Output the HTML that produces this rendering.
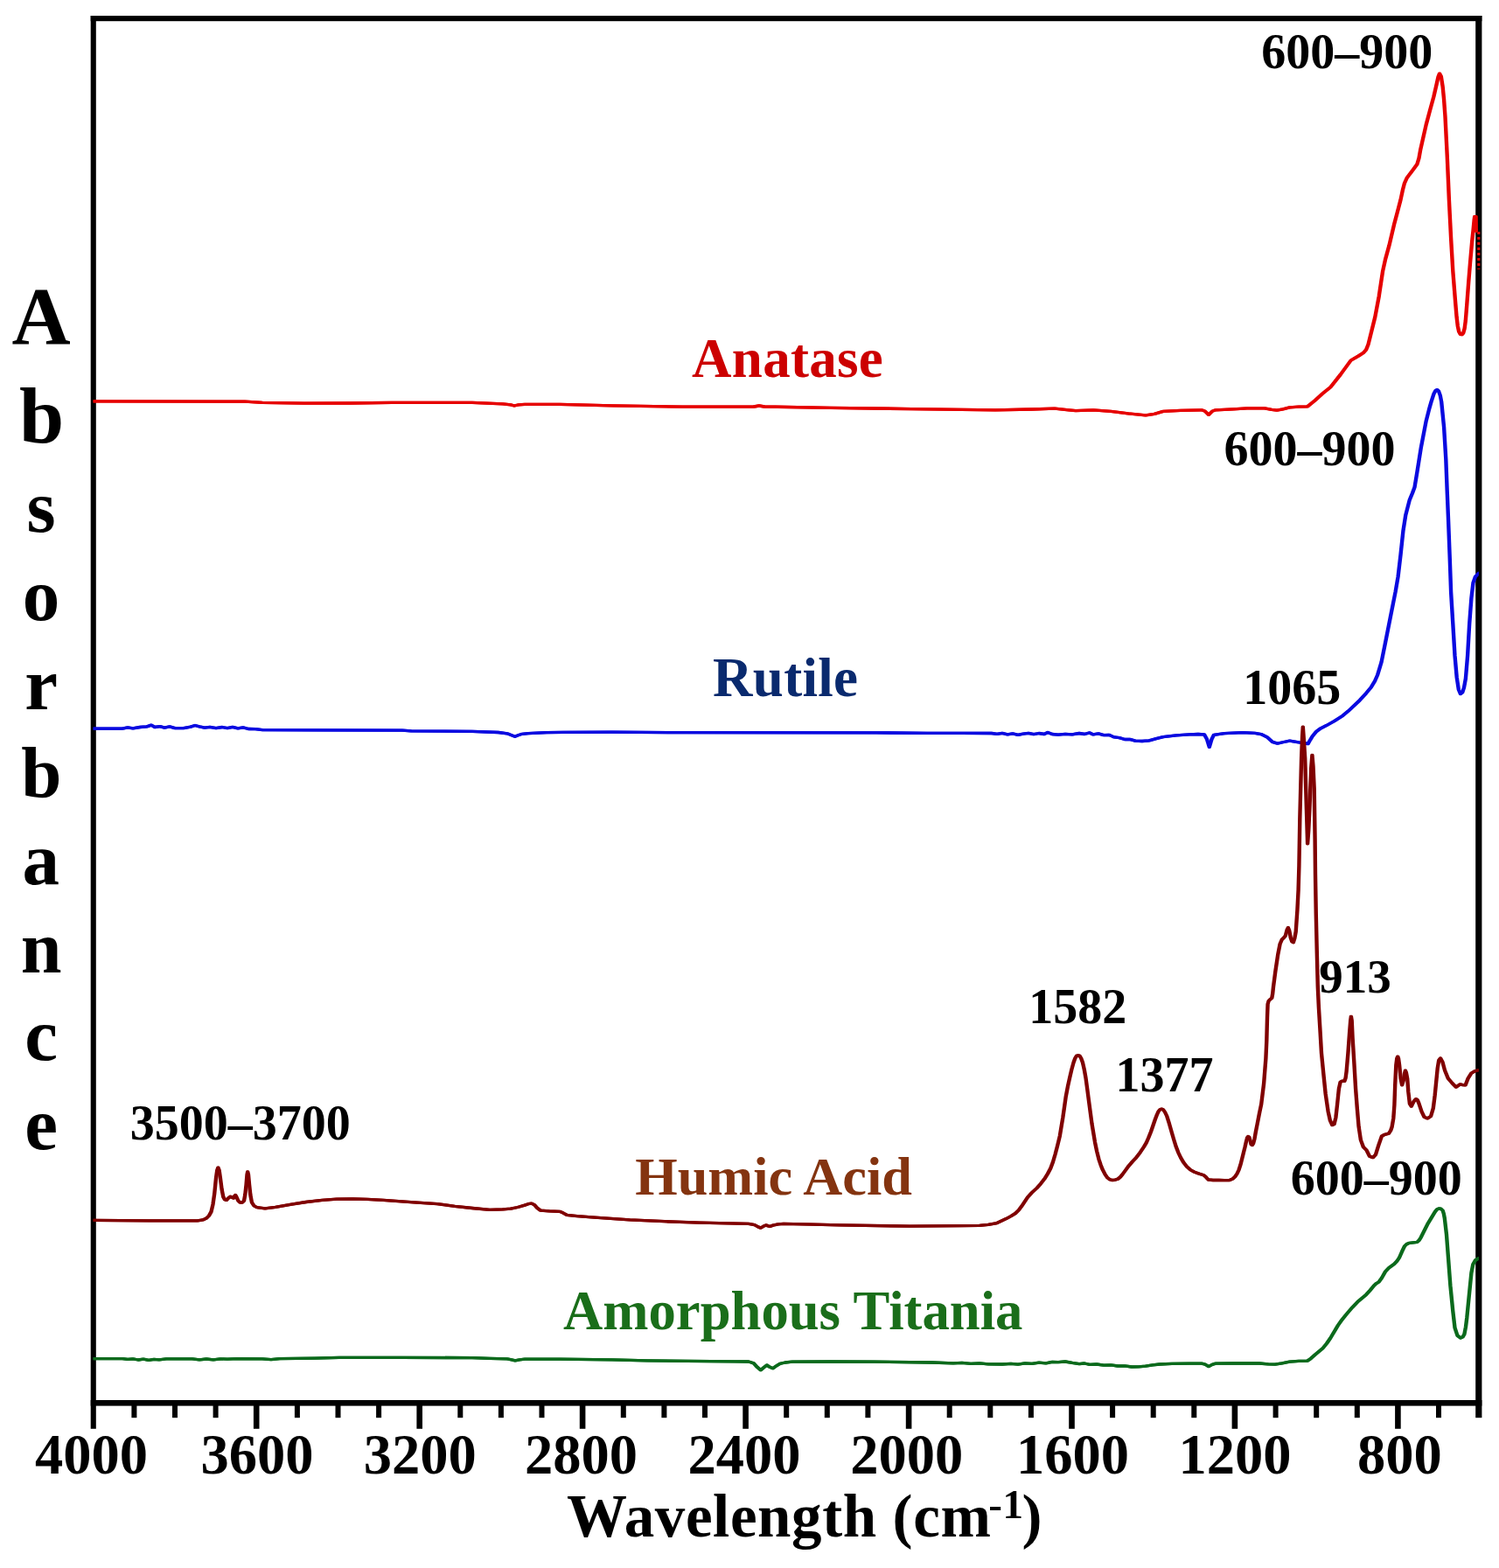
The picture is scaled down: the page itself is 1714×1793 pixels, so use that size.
<!DOCTYPE html>
<html lang="en">
<head>
<meta charset="utf-8">
<title>FTIR spectra</title>
<style>
html,body{margin:0;padding:0;background:#fff;}
body{width:1714px;height:1793px;overflow:hidden;}
svg{display:block;}
text{font-family:"Liberation Serif",serif;font-weight:bold;}
.c{fill:none;stroke-linejoin:round;stroke-linecap:round;}
</style>
</head>
<body>
<svg width="1714" height="1793" viewBox="0 0 1714 1793">
<rect x="0" y="0" width="1714" height="1793" fill="#ffffff"/>
<g fill="#000000">
<rect x="103.7" y="18.0" width="6.1" height="1615.8"/>
<rect x="103.7" y="18.0" width="1590.7" height="6.2"/>
<rect x="1687.2" y="18.0" width="7.2" height="1603.2"/>
<rect x="103.7" y="1601.0" width="1590.7" height="6.6"/>
<rect x="150.4" y="1601.0" width="6.0" height="20.2"/>
<rect x="197.0" y="1601.0" width="6.0" height="20.2"/>
<rect x="243.6" y="1601.0" width="6.0" height="20.2"/>
<rect x="289.9" y="1601.0" width="6.6" height="32.8"/>
<rect x="336.9" y="1601.0" width="6.0" height="20.2"/>
<rect x="383.5" y="1601.0" width="6.0" height="20.2"/>
<rect x="430.1" y="1601.0" width="6.0" height="20.2"/>
<rect x="476.4" y="1601.0" width="6.6" height="32.8"/>
<rect x="523.3" y="1601.0" width="6.0" height="20.2"/>
<rect x="569.9" y="1601.0" width="6.0" height="20.2"/>
<rect x="616.5" y="1601.0" width="6.0" height="20.2"/>
<rect x="662.8" y="1601.0" width="6.6" height="32.8"/>
<rect x="709.8" y="1601.0" width="6.0" height="20.2"/>
<rect x="756.4" y="1601.0" width="6.0" height="20.2"/>
<rect x="803.0" y="1601.0" width="6.0" height="20.2"/>
<rect x="849.3" y="1601.0" width="6.6" height="32.8"/>
<rect x="896.2" y="1601.0" width="6.0" height="20.2"/>
<rect x="942.8" y="1601.0" width="6.0" height="20.2"/>
<rect x="989.4" y="1601.0" width="6.0" height="20.2"/>
<rect x="1035.8" y="1601.0" width="6.6" height="32.8"/>
<rect x="1082.7" y="1601.0" width="6.0" height="20.2"/>
<rect x="1129.3" y="1601.0" width="6.0" height="20.2"/>
<rect x="1175.9" y="1601.0" width="6.0" height="20.2"/>
<rect x="1222.2" y="1601.0" width="6.6" height="32.8"/>
<rect x="1269.1" y="1601.0" width="6.0" height="20.2"/>
<rect x="1315.7" y="1601.0" width="6.0" height="20.2"/>
<rect x="1362.3" y="1601.0" width="6.0" height="20.2"/>
<rect x="1408.6" y="1601.0" width="6.6" height="32.8"/>
<rect x="1455.6" y="1601.0" width="6.0" height="20.2"/>
<rect x="1502.2" y="1601.0" width="6.0" height="20.2"/>
<rect x="1548.8" y="1601.0" width="6.0" height="20.2"/>
<rect x="1595.1" y="1601.0" width="6.6" height="32.8"/>
<rect x="1642.0" y="1601.0" width="6.0" height="20.2"/>
</g>
<defs><clipPath id="plotclip"><rect x="106.6" y="24" width="1584.2" height="1578"/></clipPath></defs>
<g clip-path="url(#plotclip)">
<g class="c" stroke="#0b6a1c" stroke-width="3.3"><polyline transform="translate(-0.55,0)" points="105.0,1553.6 140.0,1553.6 146.0,1554.4 152.0,1553.8 158.0,1555.0 164.0,1554.2 170.0,1555.4 176.0,1554.4 182.0,1554.8 190.0,1553.8 200.0,1553.8 220.0,1553.8 228.0,1554.8 236.0,1554.0 244.0,1554.8 252.0,1553.8 260.0,1554.2 272.0,1553.6 300.0,1553.8 310.0,1554.6 320.0,1553.6 360.0,1553.2 388.0,1552.4 460.0,1552.4 540.0,1552.6 560.0,1553.4 580.0,1553.8 585.0,1554.8 589.0,1555.8 594.0,1554.8 600.0,1554.2 640.0,1554.2 700.0,1554.8 740.0,1555.8 786.0,1556.4 840.0,1556.8 856.0,1557.0 861.8,1558.8 865.8,1563.3 869.8,1566.8 873.3,1563.8 876.8,1561.0 880.3,1563.3 883.8,1564.8 887.8,1561.8 891.8,1559.4 897.8,1558.0 906.0,1557.2 950.0,1557.0 1000.0,1557.2 1066.0,1558.0 1090.0,1558.8 1100.0,1558.4 1110.0,1559.4 1120.0,1558.8 1130.0,1559.8 1146.0,1560.0 1156.0,1559.4 1164.0,1560.2 1172.0,1558.8 1180.0,1559.4 1188.0,1558.2 1196.0,1558.8 1203.0,1557.4 1210.0,1557.6 1218.0,1557.0 1226.0,1558.4 1234.0,1559.6 1240.0,1559.0 1246.0,1560.4 1254.0,1560.0 1262.0,1561.2 1270.0,1560.8 1278.0,1562.0 1286.0,1561.8 1294.0,1563.0 1302.0,1562.8 1310.0,1562.2 1318.0,1560.8 1326.0,1560.0 1340.0,1559.4 1360.0,1559.2 1374.0,1559.2 1378.0,1560.2 1382.0,1562.6 1386.0,1560.4 1390.0,1559.2 1410.0,1559.0 1426.0,1558.8 1440.0,1559.0 1450.0,1559.8 1458.0,1560.1 1466.0,1558.8 1474.6,1557.2 1485.0,1556.4 1495.0,1556.2 1499.0,1553.3 1503.8,1549.0 1512.5,1541.7 1517.0,1536.3 1521.3,1530.0 1530.0,1515.4 1534.0,1509.8 1538.8,1503.7 1546.0,1495.3 1553.4,1487.7 1562.1,1480.4 1566.5,1475.6 1570.9,1470.2 1573.8,1467.6 1576.7,1465.8 1580.0,1461.3 1584.0,1454.1 1588.0,1449.8 1594.2,1445.4 1597.5,1441.8 1600.0,1438.1 1603.0,1431.3 1605.9,1425.2 1608.5,1422.6 1611.7,1421.3 1616.0,1420.8 1620.4,1420.4 1622.6,1418.3 1624.8,1414.8 1632.1,1400.2 1636.5,1392.8 1640.9,1385.6 1643.0,1383.0 1645.2,1381.9 1647.5,1382.2 1649.6,1384.1 1650.8,1387.8 1651.8,1392.9 1654.0,1411.8 1656.2,1441.0 1658.4,1470.2 1661.3,1499.4 1663.5,1518.3 1666.4,1527.1 1670.0,1530.0 1672.5,1528.8 1674.4,1525.6 1676.0,1517.3 1677.3,1506.7 1680.2,1477.5 1682.4,1455.6 1684.3,1445.8 1687.0,1441.0 1691.0,1438.8"/><polyline transform="translate(0.55,0)" points="105.0,1553.6 140.0,1553.6 146.0,1554.4 152.0,1553.8 158.0,1555.0 164.0,1554.2 170.0,1555.4 176.0,1554.4 182.0,1554.8 190.0,1553.8 200.0,1553.8 220.0,1553.8 228.0,1554.8 236.0,1554.0 244.0,1554.8 252.0,1553.8 260.0,1554.2 272.0,1553.6 300.0,1553.8 310.0,1554.6 320.0,1553.6 360.0,1553.2 388.0,1552.4 460.0,1552.4 540.0,1552.6 560.0,1553.4 580.0,1553.8 585.0,1554.8 589.0,1555.8 594.0,1554.8 600.0,1554.2 640.0,1554.2 700.0,1554.8 740.0,1555.8 786.0,1556.4 840.0,1556.8 856.0,1557.0 861.8,1558.8 865.8,1563.3 869.8,1566.8 873.3,1563.8 876.8,1561.0 880.3,1563.3 883.8,1564.8 887.8,1561.8 891.8,1559.4 897.8,1558.0 906.0,1557.2 950.0,1557.0 1000.0,1557.2 1066.0,1558.0 1090.0,1558.8 1100.0,1558.4 1110.0,1559.4 1120.0,1558.8 1130.0,1559.8 1146.0,1560.0 1156.0,1559.4 1164.0,1560.2 1172.0,1558.8 1180.0,1559.4 1188.0,1558.2 1196.0,1558.8 1203.0,1557.4 1210.0,1557.6 1218.0,1557.0 1226.0,1558.4 1234.0,1559.6 1240.0,1559.0 1246.0,1560.4 1254.0,1560.0 1262.0,1561.2 1270.0,1560.8 1278.0,1562.0 1286.0,1561.8 1294.0,1563.0 1302.0,1562.8 1310.0,1562.2 1318.0,1560.8 1326.0,1560.0 1340.0,1559.4 1360.0,1559.2 1374.0,1559.2 1378.0,1560.2 1382.0,1562.6 1386.0,1560.4 1390.0,1559.2 1410.0,1559.0 1426.0,1558.8 1440.0,1559.0 1450.0,1559.8 1458.0,1560.1 1466.0,1558.8 1474.6,1557.2 1485.0,1556.4 1495.0,1556.2 1499.0,1553.3 1503.8,1549.0 1512.5,1541.7 1517.0,1536.3 1521.3,1530.0 1530.0,1515.4 1534.0,1509.8 1538.8,1503.7 1546.0,1495.3 1553.4,1487.7 1562.1,1480.4 1566.5,1475.6 1570.9,1470.2 1573.8,1467.6 1576.7,1465.8 1580.0,1461.3 1584.0,1454.1 1588.0,1449.8 1594.2,1445.4 1597.5,1441.8 1600.0,1438.1 1603.0,1431.3 1605.9,1425.2 1608.5,1422.6 1611.7,1421.3 1616.0,1420.8 1620.4,1420.4 1622.6,1418.3 1624.8,1414.8 1632.1,1400.2 1636.5,1392.8 1640.9,1385.6 1643.0,1383.0 1645.2,1381.9 1647.5,1382.2 1649.6,1384.1 1650.8,1387.8 1651.8,1392.9 1654.0,1411.8 1656.2,1441.0 1658.4,1470.2 1661.3,1499.4 1663.5,1518.3 1666.4,1527.1 1670.0,1530.0 1672.5,1528.8 1674.4,1525.6 1676.0,1517.3 1677.3,1506.7 1680.2,1477.5 1682.4,1455.6 1684.3,1445.8 1687.0,1441.0 1691.0,1438.8"/></g>
<g class="c" stroke="#e60000" stroke-width="3.3"><polyline transform="translate(-0.55,0)" points="105.0,458.8 280.0,459.2 300.0,460.3 348.0,461.2 400.0,461.0 448.0,460.4 540.0,460.4 575.0,461.8 584.0,462.8 588.0,464.0 593.0,462.8 600.0,462.3 640.0,462.3 700.0,463.8 780.0,465.2 862.0,465.0 868.0,464.0 874.0,465.0 950.0,466.3 1042.0,467.6 1138.0,468.8 1180.0,468.0 1206.0,467.2 1222.0,468.8 1230.0,469.6 1250.0,468.8 1270.0,470.3 1290.0,472.8 1310.0,474.8 1320.0,473.3 1330.0,470.3 1350.0,469.3 1374.0,468.8 1378.0,470.3 1382.0,474.3 1386.0,470.3 1390.0,468.8 1410.0,467.8 1426.0,466.8 1446.0,466.8 1454.0,468.3 1460.0,469.2 1467.0,467.8 1474.6,465.8 1485.0,465.1 1495.0,464.9 1503.8,457.8 1512.0,450.3 1521.3,442.7 1532.9,428.1 1544.6,412.1 1553.4,407.0 1559.0,403.3 1562.1,399.8 1564.5,393.8 1566.5,385.8 1572.3,362.5 1576.7,339.1 1581.1,310.0 1584.0,296.8 1588.4,280.8 1594.2,256.2 1598.0,241.8 1601.5,228.5 1604.0,216.8 1605.9,209.6 1608.5,203.8 1611.7,199.4 1616.0,193.8 1620.4,187.7 1622.5,180.8 1624.1,171.7 1630.7,142.5 1635.0,126.3 1639.4,110.4 1642.5,96.8 1644.5,87.8 1646.0,84.1 1647.8,87.3 1649.6,98.7 1651.0,112.8 1652.5,133.7 1654.7,177.5 1656.9,228.5 1659.1,272.3 1661.3,310.0 1664.2,346.4 1665.6,362.8 1666.8,372.8 1668.2,379.3 1669.8,382.3 1671.6,382.6 1673.2,380.8 1674.6,375.8 1675.8,366.8 1677.3,347.8 1679.2,322.8 1681.0,300.8 1683.2,275.8 1684.6,262.8 1685.6,251.8 1686.2,247.6 1687.6,247.6 1687.8,264.3"/><polyline transform="translate(0.55,0)" points="105.0,458.8 280.0,459.2 300.0,460.3 348.0,461.2 400.0,461.0 448.0,460.4 540.0,460.4 575.0,461.8 584.0,462.8 588.0,464.0 593.0,462.8 600.0,462.3 640.0,462.3 700.0,463.8 780.0,465.2 862.0,465.0 868.0,464.0 874.0,465.0 950.0,466.3 1042.0,467.6 1138.0,468.8 1180.0,468.0 1206.0,467.2 1222.0,468.8 1230.0,469.6 1250.0,468.8 1270.0,470.3 1290.0,472.8 1310.0,474.8 1320.0,473.3 1330.0,470.3 1350.0,469.3 1374.0,468.8 1378.0,470.3 1382.0,474.3 1386.0,470.3 1390.0,468.8 1410.0,467.8 1426.0,466.8 1446.0,466.8 1454.0,468.3 1460.0,469.2 1467.0,467.8 1474.6,465.8 1485.0,465.1 1495.0,464.9 1503.8,457.8 1512.0,450.3 1521.3,442.7 1532.9,428.1 1544.6,412.1 1553.4,407.0 1559.0,403.3 1562.1,399.8 1564.5,393.8 1566.5,385.8 1572.3,362.5 1576.7,339.1 1581.1,310.0 1584.0,296.8 1588.4,280.8 1594.2,256.2 1598.0,241.8 1601.5,228.5 1604.0,216.8 1605.9,209.6 1608.5,203.8 1611.7,199.4 1616.0,193.8 1620.4,187.7 1622.5,180.8 1624.1,171.7 1630.7,142.5 1635.0,126.3 1639.4,110.4 1642.5,96.8 1644.5,87.8 1646.0,84.1 1647.8,87.3 1649.6,98.7 1651.0,112.8 1652.5,133.7 1654.7,177.5 1656.9,228.5 1659.1,272.3 1661.3,310.0 1664.2,346.4 1665.6,362.8 1666.8,372.8 1668.2,379.3 1669.8,382.3 1671.6,382.6 1673.2,380.8 1674.6,375.8 1675.8,366.8 1677.3,347.8 1679.2,322.8 1681.0,300.8 1683.2,275.8 1684.6,262.8 1685.6,251.8 1686.2,247.6 1687.6,247.6 1687.8,264.3"/></g>
<g class="c" stroke="#0a0ae0" stroke-width="3.3"><polyline transform="translate(-0.55,0)" points="105.0,833.1 140.0,833.1 146.0,831.9 152.0,832.9 160.0,831.5 168.0,830.9 173.0,829.1 177.0,831.5 183.0,830.7 188.0,832.1 194.0,830.9 200.0,832.7 210.0,832.7 218.0,831.1 223.0,829.5 228.0,830.9 234.0,832.1 240.0,831.3 247.0,832.7 254.0,831.5 260.0,832.7 266.0,831.3 272.0,832.9 278.0,831.9 284.0,833.5 292.0,833.7 300.0,834.7 360.0,834.9 460.0,835.1 470.0,835.9 540.0,836.3 570.0,837.5 580.0,838.8 585.0,840.8 588.8,842.3 592.5,840.8 597.0,839.3 604.0,838.7 625.0,837.7 644.0,837.3 700.0,837.1 786.0,837.7 1002.0,837.9 1060.0,838.3 1100.0,838.3 1134.0,838.5 1140.0,839.3 1146.0,838.3 1152.0,839.9 1158.0,838.9 1164.0,840.3 1170.0,839.1 1176.0,838.3 1182.0,839.7 1188.0,838.5 1194.0,839.5 1198.0,837.5 1203.0,839.5 1210.0,840.1 1218.0,839.3 1226.0,839.9 1234.0,838.5 1240.0,839.5 1246.0,837.9 1250.0,839.9 1256.0,838.9 1262.0,840.7 1268.0,840.3 1274.0,842.9 1280.0,843.7 1286.0,845.5 1292.0,845.3 1298.0,847.1 1306.0,847.5 1314.0,846.9 1322.0,844.7 1330.0,842.7 1345.0,840.9 1360.0,839.9 1370.0,839.5 1377.0,839.9 1380.0,845.3 1382.8,854.3 1385.5,845.3 1388.0,840.3 1400.0,838.7 1421.0,837.7 1435.0,838.3 1442.0,839.6 1449.0,843.1 1454.8,848.3 1460.7,850.1 1468.0,848.5 1474.7,847.1 1482.0,848.3 1488.7,849.5 1495.7,850.5 1498.0,846.3 1500.4,842.3 1505.0,836.6 1510.0,832.9 1516.7,829.6 1525.6,824.6 1535.4,818.3 1541.7,813.1 1554.8,800.7 1562.0,792.8 1567.9,785.7 1572.0,778.8 1575.2,771.6 1579.6,757.0 1584.0,735.1 1589.8,705.9 1595.6,676.8 1598.6,659.3 1601.5,634.5 1604.4,607.3 1607.3,588.8 1611.7,571.8 1615.0,563.8 1617.5,557.2 1620.4,539.7 1624.8,512.0 1630.7,481.3 1634.0,468.3 1636.5,459.5 1639.5,450.3 1641.5,446.6 1643.1,445.6 1645.0,447.3 1646.8,452.3 1648.2,459.5 1651.1,488.6 1653.3,525.1 1654.7,561.6 1656.2,598.0 1657.6,634.5 1659.1,676.8 1661.3,713.2 1663.5,749.7 1665.7,774.5 1667.8,788.3 1670.0,793.5 1672.2,791.8 1674.0,786.3 1675.9,775.9 1678.1,749.7 1680.2,713.2 1682.4,684.1 1684.5,666.3 1687.0,659.3 1691.0,655.3"/><polyline transform="translate(0.55,0)" points="105.0,833.1 140.0,833.1 146.0,831.9 152.0,832.9 160.0,831.5 168.0,830.9 173.0,829.1 177.0,831.5 183.0,830.7 188.0,832.1 194.0,830.9 200.0,832.7 210.0,832.7 218.0,831.1 223.0,829.5 228.0,830.9 234.0,832.1 240.0,831.3 247.0,832.7 254.0,831.5 260.0,832.7 266.0,831.3 272.0,832.9 278.0,831.9 284.0,833.5 292.0,833.7 300.0,834.7 360.0,834.9 460.0,835.1 470.0,835.9 540.0,836.3 570.0,837.5 580.0,838.8 585.0,840.8 588.8,842.3 592.5,840.8 597.0,839.3 604.0,838.7 625.0,837.7 644.0,837.3 700.0,837.1 786.0,837.7 1002.0,837.9 1060.0,838.3 1100.0,838.3 1134.0,838.5 1140.0,839.3 1146.0,838.3 1152.0,839.9 1158.0,838.9 1164.0,840.3 1170.0,839.1 1176.0,838.3 1182.0,839.7 1188.0,838.5 1194.0,839.5 1198.0,837.5 1203.0,839.5 1210.0,840.1 1218.0,839.3 1226.0,839.9 1234.0,838.5 1240.0,839.5 1246.0,837.9 1250.0,839.9 1256.0,838.9 1262.0,840.7 1268.0,840.3 1274.0,842.9 1280.0,843.7 1286.0,845.5 1292.0,845.3 1298.0,847.1 1306.0,847.5 1314.0,846.9 1322.0,844.7 1330.0,842.7 1345.0,840.9 1360.0,839.9 1370.0,839.5 1377.0,839.9 1380.0,845.3 1382.8,854.3 1385.5,845.3 1388.0,840.3 1400.0,838.7 1421.0,837.7 1435.0,838.3 1442.0,839.6 1449.0,843.1 1454.8,848.3 1460.7,850.1 1468.0,848.5 1474.7,847.1 1482.0,848.3 1488.7,849.5 1495.7,850.5 1498.0,846.3 1500.4,842.3 1505.0,836.6 1510.0,832.9 1516.7,829.6 1525.6,824.6 1535.4,818.3 1541.7,813.1 1554.8,800.7 1562.0,792.8 1567.9,785.7 1572.0,778.8 1575.2,771.6 1579.6,757.0 1584.0,735.1 1589.8,705.9 1595.6,676.8 1598.6,659.3 1601.5,634.5 1604.4,607.3 1607.3,588.8 1611.7,571.8 1615.0,563.8 1617.5,557.2 1620.4,539.7 1624.8,512.0 1630.7,481.3 1634.0,468.3 1636.5,459.5 1639.5,450.3 1641.5,446.6 1643.1,445.6 1645.0,447.3 1646.8,452.3 1648.2,459.5 1651.1,488.6 1653.3,525.1 1654.7,561.6 1656.2,598.0 1657.6,634.5 1659.1,676.8 1661.3,713.2 1663.5,749.7 1665.7,774.5 1667.8,788.3 1670.0,793.5 1672.2,791.8 1674.0,786.3 1675.9,775.9 1678.1,749.7 1680.2,713.2 1682.4,684.1 1684.5,666.3 1687.0,659.3 1691.0,655.3"/></g>
<g class="c" stroke="#800000" stroke-width="3.3"><polyline transform="translate(-0.55,0)" points="105.0,1395.3 170.0,1395.8 226.0,1395.8 232.0,1394.9 236.0,1393.1 239.0,1390.1 241.5,1385.6 243.5,1377.1 245.2,1365.1 247.0,1347.1 248.3,1338.1 249.4,1335.1 250.6,1338.1 251.9,1347.1 253.6,1360.1 255.3,1368.6 257.0,1371.7 259.0,1372.4 261.5,1369.7 263.4,1368.2 265.3,1369.3 266.9,1370.1 268.2,1367.7 269.2,1366.6 270.6,1369.1 272.4,1373.1 274.5,1375.1 277.0,1375.1 279.0,1373.1 280.3,1366.1 281.6,1354.1 282.5,1343.1 283.2,1339.8 284.0,1343.1 285.0,1354.1 286.3,1366.1 287.9,1374.8 290.5,1378.9 293.7,1380.6 303.0,1381.8 315.0,1380.3 333.4,1377.1 350.0,1374.5 368.4,1372.4 385.0,1371.2 403.4,1370.8 420.0,1371.3 438.4,1372.4 473.4,1374.8 500.0,1376.6 520.0,1379.3 540.0,1381.5 560.0,1383.3 575.0,1382.9 584.0,1382.1 592.0,1380.5 600.0,1378.1 604.0,1376.7 608.0,1376.1 611.0,1377.7 614.0,1381.1 618.0,1384.1 628.0,1384.9 640.0,1385.3 644.0,1387.1 648.0,1389.3 660.0,1390.7 680.0,1392.1 720.0,1394.9 760.0,1396.7 800.0,1398.1 856.0,1399.3 862.8,1400.6 866.8,1402.9 869.8,1404.1 872.8,1402.3 875.8,1400.9 878.3,1401.9 880.3,1402.5 883.8,1401.1 889.8,1399.9 896.0,1399.3 930.0,1400.1 960.0,1400.9 1040.0,1402.1 1100.0,1401.7 1120.0,1401.3 1130.0,1400.3 1140.0,1398.6 1150.5,1393.6 1156.0,1390.6 1161.0,1387.5 1165.0,1383.6 1168.0,1379.6 1175.0,1369.1 1180.0,1363.6 1185.5,1358.6 1190.0,1353.6 1194.3,1348.1 1198.0,1342.1 1201.3,1335.9 1204.0,1328.6 1206.5,1320.1 1209.0,1310.6 1211.8,1299.1 1215.3,1278.1 1218.8,1253.6 1221.0,1242.1 1223.1,1232.6 1225.3,1223.1 1227.5,1215.1 1229.3,1210.1 1231.0,1207.4 1232.8,1206.7 1234.5,1207.4 1236.2,1210.1 1238.0,1215.1 1239.8,1223.1 1241.5,1232.6 1243.2,1245.1 1245.0,1258.9 1248.5,1285.1 1252.0,1306.1 1254.2,1316.6 1256.4,1325.4 1258.6,1332.1 1260.8,1337.6 1263.4,1342.6 1266.0,1346.4 1268.6,1348.6 1271.3,1349.5 1274.8,1349.3 1278.3,1348.1 1281.0,1345.9 1283.5,1342.9 1287.0,1338.1 1290.5,1333.3 1295.0,1328.1 1299.3,1323.6 1303.6,1317.9 1308.0,1311.4 1310.8,1306.6 1313.3,1300.9 1316.0,1294.1 1318.5,1286.9 1320.8,1280.1 1322.9,1274.6 1324.7,1270.7 1326.4,1268.7 1328.2,1268.1 1329.9,1268.7 1332.0,1271.6 1334.3,1276.4 1337.0,1285.1 1339.5,1293.9 1342.2,1303.1 1344.8,1311.4 1347.4,1318.1 1350.0,1323.6 1353.5,1329.6 1357.0,1334.1 1361.0,1337.6 1365.8,1340.3 1371.0,1342.1 1376.3,1343.8 1379.0,1346.1 1381.6,1349.0 1387.0,1349.5 1393.8,1349.5 1400.0,1349.7 1406.0,1349.5 1409.5,1347.9 1412.2,1345.5 1414.5,1342.1 1416.6,1337.6 1418.4,1332.1 1420.1,1325.4 1421.9,1318.1 1423.6,1311.4 1425.0,1305.1 1426.2,1300.7 1427.2,1299.5 1428.3,1300.3 1429.5,1304.1 1430.6,1308.5 1431.8,1309.5 1433.0,1307.7 1434.4,1302.6 1435.8,1294.6 1437.5,1286.0 1440.0,1273.1 1442.2,1262.6 1445.1,1239.3 1447.4,1210.1 1448.3,1190.1 1449.0,1163.5 1449.6,1148.1 1450.6,1144.6 1452.5,1142.7 1454.3,1141.3 1455.2,1136.1 1456.0,1128.5 1458.3,1111.0 1461.3,1091.1 1463.6,1079.4 1465.9,1074.2 1468.0,1072.3 1469.8,1070.1 1471.5,1063.6 1472.9,1060.8 1474.2,1064.1 1475.8,1072.4 1477.3,1076.6 1478.8,1077.7 1480.3,1073.1 1481.7,1065.4 1483.4,1040.9 1484.6,1017.6 1485.4,990.1 1486.3,936.8 1488.1,866.8 1489.1,842.1 1489.8,831.2 1490.6,842.1 1492.2,866.8 1493.9,925.1 1495.1,964.8 1496.2,950.1 1497.4,925.1 1499.2,878.4 1500.4,863.3 1501.5,876.1 1502.7,901.8 1503.6,960.1 1504.0,1000.1 1504.8,1046.8 1505.9,1093.4 1506.8,1128.5 1507.9,1151.8 1509.3,1175.1 1511.0,1204.3 1513.3,1227.6 1515.7,1251.0 1518.6,1270.8 1520.9,1281.3 1523.3,1286.5 1525.6,1285.4 1527.4,1277.8 1529.1,1262.6 1530.9,1245.1 1532.6,1237.4 1534.6,1236.1 1537.3,1236.4 1538.6,1232.6 1539.6,1225.3 1541.4,1204.3 1543.1,1180.9 1544.2,1167.1 1544.9,1162.3 1545.7,1167.1 1546.6,1186.8 1548.4,1215.9 1550.1,1245.1 1551.9,1268.5 1553.6,1288.3 1555.9,1303.5 1558.9,1311.6 1562.4,1315.1 1565.9,1322.1 1569.9,1323.7 1572.9,1320.4 1576.4,1309.3 1579.9,1299.3 1583.4,1297.3 1588.0,1296.1 1590.2,1292.6 1591.6,1288.6 1593.3,1278.7 1594.4,1263.5 1595.2,1240.8 1596.3,1218.0 1597.3,1210.1 1598.2,1208.2 1599.1,1210.6 1600.1,1218.0 1601.6,1233.2 1603.1,1240.8 1605.0,1234.7 1606.1,1227.1 1606.9,1224.1 1607.8,1226.1 1609.2,1233.2 1610.3,1248.4 1611.9,1262.0 1613.8,1265.0 1616.4,1259.7 1619.1,1256.7 1620.8,1257.9 1622.5,1262.0 1625.5,1271.1 1628.5,1277.2 1632.3,1278.9 1636.1,1276.4 1638.8,1267.3 1640.7,1252.2 1642.2,1237.0 1643.7,1221.8 1645.2,1212.6 1647.1,1210.1 1649.4,1214.2 1652.1,1224.1 1655.8,1233.2 1660.4,1238.5 1664.9,1243.1 1669.5,1239.9 1672.5,1240.6 1675.6,1240.8 1678.6,1233.2 1682.4,1227.1 1687.0,1224.5 1691.0,1223.7"/><polyline transform="translate(0.55,0)" points="105.0,1395.3 170.0,1395.8 226.0,1395.8 232.0,1394.9 236.0,1393.1 239.0,1390.1 241.5,1385.6 243.5,1377.1 245.2,1365.1 247.0,1347.1 248.3,1338.1 249.4,1335.1 250.6,1338.1 251.9,1347.1 253.6,1360.1 255.3,1368.6 257.0,1371.7 259.0,1372.4 261.5,1369.7 263.4,1368.2 265.3,1369.3 266.9,1370.1 268.2,1367.7 269.2,1366.6 270.6,1369.1 272.4,1373.1 274.5,1375.1 277.0,1375.1 279.0,1373.1 280.3,1366.1 281.6,1354.1 282.5,1343.1 283.2,1339.8 284.0,1343.1 285.0,1354.1 286.3,1366.1 287.9,1374.8 290.5,1378.9 293.7,1380.6 303.0,1381.8 315.0,1380.3 333.4,1377.1 350.0,1374.5 368.4,1372.4 385.0,1371.2 403.4,1370.8 420.0,1371.3 438.4,1372.4 473.4,1374.8 500.0,1376.6 520.0,1379.3 540.0,1381.5 560.0,1383.3 575.0,1382.9 584.0,1382.1 592.0,1380.5 600.0,1378.1 604.0,1376.7 608.0,1376.1 611.0,1377.7 614.0,1381.1 618.0,1384.1 628.0,1384.9 640.0,1385.3 644.0,1387.1 648.0,1389.3 660.0,1390.7 680.0,1392.1 720.0,1394.9 760.0,1396.7 800.0,1398.1 856.0,1399.3 862.8,1400.6 866.8,1402.9 869.8,1404.1 872.8,1402.3 875.8,1400.9 878.3,1401.9 880.3,1402.5 883.8,1401.1 889.8,1399.9 896.0,1399.3 930.0,1400.1 960.0,1400.9 1040.0,1402.1 1100.0,1401.7 1120.0,1401.3 1130.0,1400.3 1140.0,1398.6 1150.5,1393.6 1156.0,1390.6 1161.0,1387.5 1165.0,1383.6 1168.0,1379.6 1175.0,1369.1 1180.0,1363.6 1185.5,1358.6 1190.0,1353.6 1194.3,1348.1 1198.0,1342.1 1201.3,1335.9 1204.0,1328.6 1206.5,1320.1 1209.0,1310.6 1211.8,1299.1 1215.3,1278.1 1218.8,1253.6 1221.0,1242.1 1223.1,1232.6 1225.3,1223.1 1227.5,1215.1 1229.3,1210.1 1231.0,1207.4 1232.8,1206.7 1234.5,1207.4 1236.2,1210.1 1238.0,1215.1 1239.8,1223.1 1241.5,1232.6 1243.2,1245.1 1245.0,1258.9 1248.5,1285.1 1252.0,1306.1 1254.2,1316.6 1256.4,1325.4 1258.6,1332.1 1260.8,1337.6 1263.4,1342.6 1266.0,1346.4 1268.6,1348.6 1271.3,1349.5 1274.8,1349.3 1278.3,1348.1 1281.0,1345.9 1283.5,1342.9 1287.0,1338.1 1290.5,1333.3 1295.0,1328.1 1299.3,1323.6 1303.6,1317.9 1308.0,1311.4 1310.8,1306.6 1313.3,1300.9 1316.0,1294.1 1318.5,1286.9 1320.8,1280.1 1322.9,1274.6 1324.7,1270.7 1326.4,1268.7 1328.2,1268.1 1329.9,1268.7 1332.0,1271.6 1334.3,1276.4 1337.0,1285.1 1339.5,1293.9 1342.2,1303.1 1344.8,1311.4 1347.4,1318.1 1350.0,1323.6 1353.5,1329.6 1357.0,1334.1 1361.0,1337.6 1365.8,1340.3 1371.0,1342.1 1376.3,1343.8 1379.0,1346.1 1381.6,1349.0 1387.0,1349.5 1393.8,1349.5 1400.0,1349.7 1406.0,1349.5 1409.5,1347.9 1412.2,1345.5 1414.5,1342.1 1416.6,1337.6 1418.4,1332.1 1420.1,1325.4 1421.9,1318.1 1423.6,1311.4 1425.0,1305.1 1426.2,1300.7 1427.2,1299.5 1428.3,1300.3 1429.5,1304.1 1430.6,1308.5 1431.8,1309.5 1433.0,1307.7 1434.4,1302.6 1435.8,1294.6 1437.5,1286.0 1440.0,1273.1 1442.2,1262.6 1445.1,1239.3 1447.4,1210.1 1448.3,1190.1 1449.0,1163.5 1449.6,1148.1 1450.6,1144.6 1452.5,1142.7 1454.3,1141.3 1455.2,1136.1 1456.0,1128.5 1458.3,1111.0 1461.3,1091.1 1463.6,1079.4 1465.9,1074.2 1468.0,1072.3 1469.8,1070.1 1471.5,1063.6 1472.9,1060.8 1474.2,1064.1 1475.8,1072.4 1477.3,1076.6 1478.8,1077.7 1480.3,1073.1 1481.7,1065.4 1483.4,1040.9 1484.6,1017.6 1485.4,990.1 1486.3,936.8 1488.1,866.8 1489.1,842.1 1489.8,831.2 1490.6,842.1 1492.2,866.8 1493.9,925.1 1495.1,964.8 1496.2,950.1 1497.4,925.1 1499.2,878.4 1500.4,863.3 1501.5,876.1 1502.7,901.8 1503.6,960.1 1504.0,1000.1 1504.8,1046.8 1505.9,1093.4 1506.8,1128.5 1507.9,1151.8 1509.3,1175.1 1511.0,1204.3 1513.3,1227.6 1515.7,1251.0 1518.6,1270.8 1520.9,1281.3 1523.3,1286.5 1525.6,1285.4 1527.4,1277.8 1529.1,1262.6 1530.9,1245.1 1532.6,1237.4 1534.6,1236.1 1537.3,1236.4 1538.6,1232.6 1539.6,1225.3 1541.4,1204.3 1543.1,1180.9 1544.2,1167.1 1544.9,1162.3 1545.7,1167.1 1546.6,1186.8 1548.4,1215.9 1550.1,1245.1 1551.9,1268.5 1553.6,1288.3 1555.9,1303.5 1558.9,1311.6 1562.4,1315.1 1565.9,1322.1 1569.9,1323.7 1572.9,1320.4 1576.4,1309.3 1579.9,1299.3 1583.4,1297.3 1588.0,1296.1 1590.2,1292.6 1591.6,1288.6 1593.3,1278.7 1594.4,1263.5 1595.2,1240.8 1596.3,1218.0 1597.3,1210.1 1598.2,1208.2 1599.1,1210.6 1600.1,1218.0 1601.6,1233.2 1603.1,1240.8 1605.0,1234.7 1606.1,1227.1 1606.9,1224.1 1607.8,1226.1 1609.2,1233.2 1610.3,1248.4 1611.9,1262.0 1613.8,1265.0 1616.4,1259.7 1619.1,1256.7 1620.8,1257.9 1622.5,1262.0 1625.5,1271.1 1628.5,1277.2 1632.3,1278.9 1636.1,1276.4 1638.8,1267.3 1640.7,1252.2 1642.2,1237.0 1643.7,1221.8 1645.2,1212.6 1647.1,1210.1 1649.4,1214.2 1652.1,1224.1 1655.8,1233.2 1660.4,1238.5 1664.9,1243.1 1669.5,1239.9 1672.5,1240.6 1675.6,1240.8 1678.6,1233.2 1682.4,1227.1 1687.0,1224.5 1691.0,1223.7"/></g>
</g>
<line x1="1690.8" y1="265" x2="1690.8" y2="308" stroke="#e00000" stroke-width="3.2" stroke-dasharray="3 3"/>
<g font-size="64.5" text-anchor="middle" fill="#000">
<text x="104.6" y="1684.6">4000</text>
<text x="293.9" y="1684.6">3600</text>
<text x="480.3" y="1684.6">3200</text>
<text x="664.5" y="1684.6">2800</text>
<text x="851.1" y="1684.6">2400</text>
<text x="1036.8" y="1684.6">2000</text>
<text x="1226.6" y="1684.6">1600</text>
<text x="1412.1" y="1684.6">1200</text>
<text x="1600.4" y="1684.6">800</text>
</g>
<text x="647.9" y="1756.6" font-size="69" letter-spacing="0.6" fill="#000">Wavelength (cm<tspan font-size="47" dx="-3.3" dy="-20.8">-1</tspan><tspan dx="-2" dy="20.8">)</tspan></text>
<text text-anchor="middle" fill="#000" aria-label="Absorbance"><tspan x="47" y="392.5" font-size="93">A</tspan><tspan x="47.6" y="505.6" font-size="92">b</tspan><tspan x="47" y="607.8" font-size="85">s</tspan><tspan x="47" y="709.2" font-size="85">o</tspan><tspan x="47" y="811" font-size="85">r</tspan><tspan x="47.4" y="910.8" font-size="83">b</tspan><tspan x="46.8" y="1010.8" font-size="85">a</tspan><tspan x="47" y="1112" font-size="84">n</tspan><tspan x="47" y="1212.4" font-size="85">c</tspan><tspan x="47" y="1313.6" font-size="85">e</tspan></text>
<g font-size="56" fill="#000">
<text x="1442.3" y="78.1">600–900</text>
<text x="1399.4" y="532.1">600–900</text>
<text x="1421.2" y="805.2">1065</text>
<text x="1176.3" y="1170.4">1582</text>
<text x="1275.4" y="1248.2">1377</text>
<text x="1508.2" y="1135.2" font-size="55">913</text>
<text x="148.7" y="1303.2">3500–3700</text>
<text x="1475.7" y="1365.9">600–900</text>
</g>
<text x="791" y="430.9" font-size="63" letter-spacing="0.3" fill="#cc0000">Anatase</text>
<text x="815" y="796.2" font-size="63" letter-spacing="0.3" fill="#0a2a6e">Rutile</text>
<text x="726.2" y="1366.4" font-size="62.3" fill="#843410">Humic Acid</text>
<text x="644" y="1520" font-size="62.7" fill="#1a6e1a">Amorphous Titania</text>
</svg>
</body>
</html>
